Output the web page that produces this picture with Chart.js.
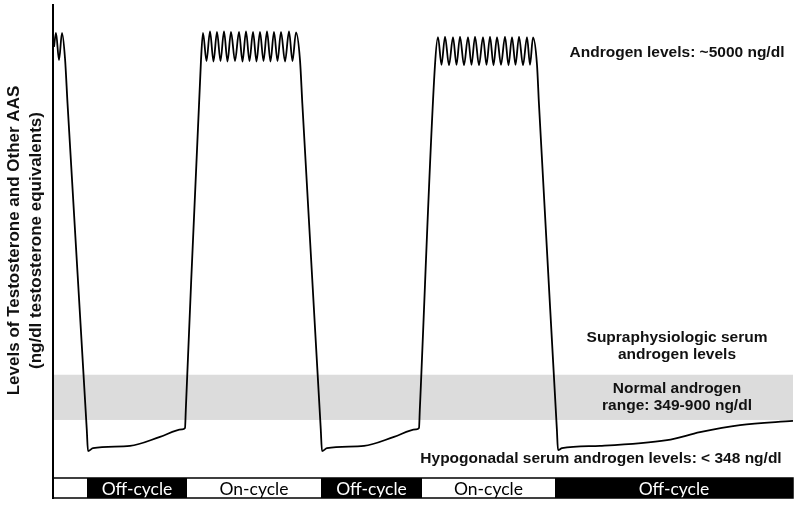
<!DOCTYPE html>
<html>
<head>
<meta charset="utf-8">
<script src="https://cdn.jsdelivr.net/npm/chart.js@4"></script>
<style>
  html, body { margin: 0; padding: 0; background: #fff; }
</style>
</head>
<body>
<canvas id="chart" width="800" height="505"></canvas>
<script>
// ========================================
// DATA (x in weeks, y in relative androgen level 0-100)
// ========================================

const weeks = [
    0.1, 0.3, 0.6, 0.9, 1.2, 1.45, 3.38, 3.5, 4.0, 7.7, 10.7, 12.9, 13.2, 13.28, 14.8,
    15.0, 15.35, 15.7, 16.05, 16.4, 16.75, 17.1, 17.45, 17.8, 18.2, 18.6, 18.95, 19.3, 19.65,
    20.0, 20.35, 20.7, 21.05, 21.4, 21.75, 22.1, 22.45, 22.8, 23.2, 23.6, 23.95, 24.3,
    24.7, 24.93, 26.78, 26.9, 27.4, 31.1, 34.1, 36.3, 36.6, 36.68, 38.2,
    38.5, 38.85, 39.2, 39.6, 40.0, 40.35, 40.7, 41.1, 41.5, 41.85, 42.2, 42.6, 43.0, 43.35,
    43.7, 44.05, 44.4, 44.8, 45.2, 45.55, 45.9, 46.25, 46.6, 47.0, 47.4, 47.7, 48.0,
    48.4, 48.59, 50.39, 50.5, 50.9, 54.7, 61.4, 64.7, 68.7, 74.0
];

const androgenLevel = [
    91.1, 94.1, 88.3, 94.1, 88.7, 79.2, 9.8, 5.3, 5.9, 6.4, 8.3, 9.9, 10.2, 14.0, 88.3,
    94.1, 88.1, 94.4, 88.0, 94.3, 88.1, 94.4, 88.0, 94.3, 88.1, 94.3, 88.0, 94.4, 88.1,
    94.3, 88.0, 94.3, 88.1, 94.4, 88.0, 94.3, 88.1, 94.3, 88.0, 94.4, 88.1, 94.2,
    88.3, 79.2, 9.8, 5.3, 5.9, 6.4, 8.3, 9.9, 10.2, 14.0, 87.3,
    93.2, 87.3, 93.3, 87.2, 93.2, 87.3, 93.3, 87.2, 93.2, 87.3, 93.3, 87.2, 93.2, 87.3,
    93.3, 87.2, 93.2, 87.3, 93.3, 87.2, 93.2, 87.3, 93.3, 87.2, 93.2, 87.3, 93.1,
    87.3, 79.2, 9.8, 5.5, 5.9, 6.4, 7.6, 9.3, 10.8, 11.7
];

// normal androgen range band (same units as androgenLevel)
const normalRange = [11.9, 21.5];

// cycle phases shown in the strip under the plot
const phaseStart = [0, 3.4, 13.4, 26.8, 36.9, 50.2];
const phaseEnd = [3.4, 13.4, 26.8, 36.9, 50.2, 74];
const phaseLabel = ['', 'Off-cycle', 'On-cycle', 'Off-cycle', 'On-cycle', 'Off-cycle'];
const phaseIsOff = [false, true, false, true, false, true];

const yTitle = ['Levels of Testosterone and Other AAS', '(ng/dl testosterone equivalents)'];

const COLORS = {
    line: '#000000',
    band: '#dcdcdc',
    text: '#111111'
};

const LABEL_FONT = 'bold 15.5px "Liberation Sans", Arial, sans-serif';
const PHASE_FONT = '17.5px Lato, "Open Sans", sans-serif';

// ========================================
// PLUGINS
// ========================================

// Grey band for the normal range, drawn under the line
const normalBandPlugin = {
    id: 'normalBand',
    beforeDatasetsDraw: function(chart) {
        const ctx = chart.ctx;
        const area = chart.chartArea;
        const y = chart.scales.y;
        const yTop = y.getPixelForValue(normalRange[1]);
        const yBot = y.getPixelForValue(normalRange[0]);
        ctx.save();
        ctx.fillStyle = COLORS.band;
        ctx.fillRect(area.left + 1, yTop, area.right - area.left - 1, yBot - yTop);
        ctx.restore();
    }
};

// Region labels on the right side
const annotationPlugin = {
    id: 'annotations',
    afterDatasetsDraw: function(chart) {
        const ctx = chart.ctx;
        const y = chart.scales.y;
        const cx = 677;
        const bandMid = y.getPixelForValue((normalRange[0] + normalRange[1]) / 2);
        ctx.save();
        ctx.fillStyle = COLORS.text;
        ctx.font = LABEL_FONT;
        ctx.textAlign = 'center';
        ctx.textBaseline = 'middle';
        ctx.fillText('Androgen levels: ~5000 ng/dl', cx, 53);
        ctx.fillText('Supraphysiologic serum', cx, 338);
        ctx.fillText('androgen levels', cx, 355);
        ctx.fillText('Normal androgen', cx, bandMid - 8.5);
        ctx.fillText('range: 349-900 ng/dl', cx, bandMid + 8.5);
        ctx.fillText('Hypogonadal serum androgen levels: < 348 ng/dl', 601, 459);
        ctx.restore();
    }
};

// On/off cycle strip under the plot area
const phaseStripPlugin = {
    id: 'phaseStrip',
    afterDraw: function(chart) {
        const ctx = chart.ctx;
        const x = chart.scales.x;
        const area = chart.chartArea;
        const top = area.bottom + 2;
        const bottom = area.bottom + 22;

        ctx.save();
        ctx.font = PHASE_FONT;
        ctx.textAlign = 'center';
        ctx.textBaseline = 'middle';
        phaseStart.forEach((start, i) => {
            const x0 = x.getPixelForValue(start);
            const x1 = x.getPixelForValue(phaseEnd[i]);
            ctx.fillStyle = phaseIsOff[i] ? '#000' : '#fff';
            ctx.fillRect(x0, top, x1 - x0, bottom - top);
            if (phaseLabel[i]) {
                ctx.fillStyle = phaseIsOff[i] ? '#fff' : '#000';
                ctx.fillText(phaseLabel[i], (x0 + x1) / 2, (top + bottom) / 2 + 1);
            }
        });
        ctx.strokeStyle = '#000';
        ctx.lineWidth = 1.5;
        ctx.strokeRect(area.left, top, area.right - area.left, bottom - top);
        // axis line continues down past the strip
        ctx.lineWidth = 2;
        ctx.beginPath();
        ctx.moveTo(area.left, area.bottom);
        ctx.lineTo(area.left, bottom + 1);
        ctx.stroke();
        ctx.restore();
    }
};

// ========================================
// CHART
// ========================================

function createDatasetConfig() {
    return [
        {
            label: 'Androgen level',
            data: weeks.map((w, i) => ({ x: w, y: androgenLevel[i] })),
            borderColor: COLORS.line,
            borderWidth: 1.8,
            pointRadius: 0,
            fill: false,
            cubicInterpolationMode: 'monotone'
        }
    ];
}

function createChartOptions() {
    return {
        responsive: false,
        animation: false,
        layout: {
            padding: { left: 0, top: 5, right: 7, bottom: 29 }
        },
        scales: {
            x: {
                type: 'linear',
                min: 0,
                max: 74,
                display: false
            },
            y: {
                min: 0,
                max: 100,
                grid: { display: false, drawTicks: false },
                ticks: { display: false },
                border: { display: true, color: '#000', width: 2 },
                title: {
                    display: true,
                    text: yTitle,
                    color: COLORS.text,
                    font: { family: '"Liberation Sans", Arial, sans-serif', size: 17, weight: 'bold', lineHeight: 1.25 },
                    padding: { top: 4, bottom: 6.5 }
                }
            }
        },
        plugins: {
            legend: { display: false },
            tooltip: { enabled: false }
        }
    };
}

const ctx = document.getElementById('chart').getContext('2d');
new Chart(ctx, {
    type: 'line',
    data: { datasets: createDatasetConfig() },
    options: createChartOptions(),
    plugins: [normalBandPlugin, annotationPlugin, phaseStripPlugin]
});
</script>
</body>
</html>
